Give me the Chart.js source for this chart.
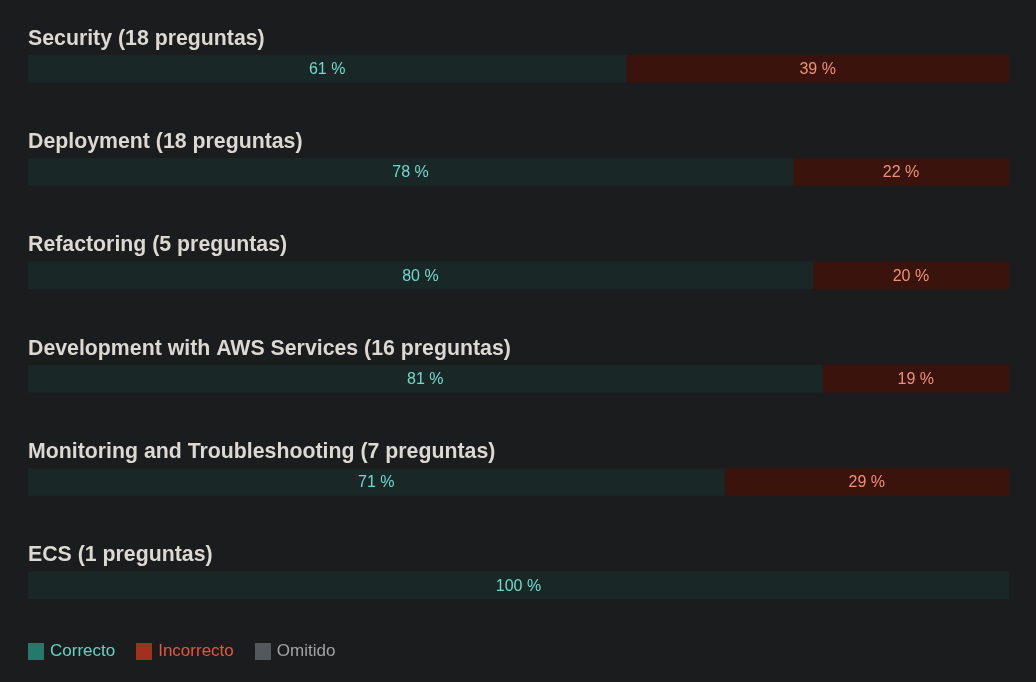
<!DOCTYPE html>
<html>
<head>
<meta charset="utf-8">
<script src="https://cdn.jsdelivr.net/npm/chart.js@4.4.0/dist/chart.umd.min.js"></script>
<style>
  html, body { margin: 0; padding: 0; background: #1b1c1e; }
  #wrap { position: relative; width: 1036px; height: 682px; }
  #legend { position: absolute; left: 28px; top: 641px; display: flex; align-items: center; font-family: "Liberation Sans", Arial, sans-serif; font-size: 17px; }
  .item { display: flex; align-items: center; margin-right: 21px; }
  .box { width: 16px; height: 17px; margin-right: 6px; }
</style>
</head>
<body>
<div id="wrap">
  <canvas id="c" width="1036" height="682"></canvas>
  <div id="legend"></div>
</div>
<script>
const categories = ["Security", "Deployment", "Refactoring", "Development with AWS Services", "Monitoring and Troubleshooting", "ECS"];
const questionCounts = [18, 18, 5, 16, 7, 1];
const correctPct = [61, 78, 80, 81, 71, 100];
const incorrectPct = [39, 22, 20, 19, 29, 0];
const omittedPct = [0, 0, 0, 0, 0, 0];
const seriesNames = ["Correcto", "Incorrecto", "Omitido"];

const barColors = ["#1a2727", "#3a130d", "#52585c"];
const labelColors = ["#6fd9cb", "#f0907a", "#b0b0b0"];
const legendBoxColors = ["#237a6a", "#a3301c", "#52585c"];
const legendTextColors = ["#62d4c4", "#e8553a", "#a3a3a3"];

const titles = categories.map((c, i) => c + " (" + questionCounts[i] + " preguntas)");

const decorPlugin = {
  id: 'decor',
  afterDatasetsDraw(chart) {
    const ctx = chart.ctx;
    const yScale = chart.scales.y;
    ctx.save();
    ctx.font = "bold 21.3px 'Liberation Sans', Arial, sans-serif";
    ctx.fillStyle = "#dcd8d2";
    ctx.textAlign = "left";
    ctx.textBaseline = "middle";
    titles.forEach((t, i) => {
      const y = yScale.getPixelForValue(i);
      ctx.fillText(t, chart.chartArea.left, y - 30);
    });
    ctx.font = "16px 'Liberation Sans', Arial, sans-serif";
    ctx.textAlign = "center";
    chart.data.datasets.forEach((ds, di) => {
      const meta = chart.getDatasetMeta(di);
      meta.data.forEach((el, i) => {
        const v = ds.data[i];
        if (!v) return;
        const cx = (el.x + el.base) / 2;
        ctx.fillStyle = labelColors[di];
        ctx.fillText(v + " %", cx, el.y + 1);
      });
    });
    ctx.restore();
  }
};

new Chart(document.getElementById('c'), {
  type: 'bar',
  data: {
    labels: categories,
    datasets: [
      { label: seriesNames[0], data: correctPct, backgroundColor: barColors[0] },
      { label: seriesNames[1], data: incorrectPct, backgroundColor: barColors[1] },
      { label: seriesNames[2], data: omittedPct, backgroundColor: barColors[2] }
    ].map(d => Object.assign(d, { barThickness: 27, borderWidth: 0 }))
  },
  options: {
    indexAxis: 'y',
    responsive: false,
    animation: false,
    layout: { padding: { left: 28, right: 27, top: 17, bottom: 45 } },
    plugins: { legend: { display: false }, tooltip: { enabled: false } },
    scales: {
      x: { stacked: true, min: 0, max: 100, display: false },
      y: { stacked: true, display: false }
    }
  },
  plugins: [decorPlugin]
});

const legend = document.getElementById('legend');
seriesNames.forEach((n, i) => {
  const it = document.createElement('div');
  it.className = 'item';
  it.innerHTML = '<div class="box" style="background:' + legendBoxColors[i] + '"></div><span style="color:' + legendTextColors[i] + '">' + n + '</span>';
  legend.appendChild(it);
});
</script>
</body>
</html>
